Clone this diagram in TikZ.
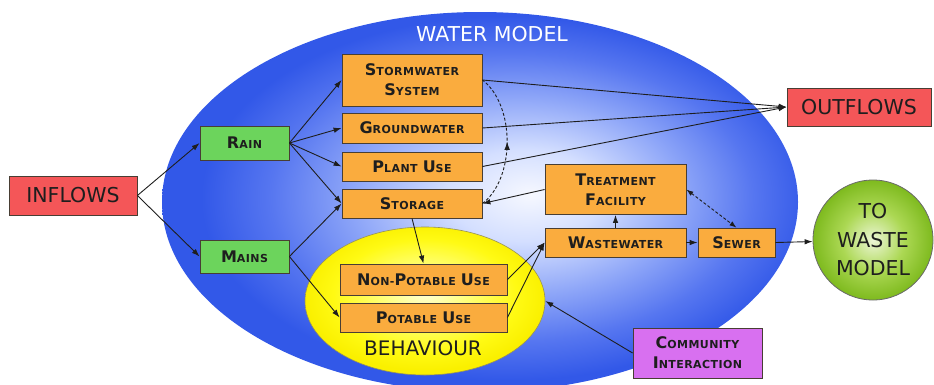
\documentclass[tikz,border=0pt]{standalone}
\usepackage{fontspec}
\setmainfont{DejaVu Sans}
\newfontfamily\spacedfont[LetterSpace=4]{DejaVu Sans}
\usetikzlibrary{arrows.meta,decorations.markings,shapes.geometric}

% palette
\definecolor{wgA}{RGB}{246,248,255}
\definecolor{wgB}{RGB}{212,223,255}
\definecolor{wgC}{RGB}{142,166,248}
\definecolor{wgD}{RGB}{86,118,240}
\definecolor{wgE}{RGB}{50,88,232}
\definecolor{ygA}{RGB}{255,255,215}
\definecolor{ygB}{RGB}{255,255,120}
\definecolor{ygC}{RGB}{255,250,20}
\definecolor{ygD}{RGB}{250,240,0}
\definecolor{ggA}{RGB}{236,246,214}
\definecolor{ggB}{RGB}{172,216,84}
\definecolor{ggC}{RGB}{126,186,30}
\definecolor{boxorange}{RGB}{250,172,62}
\definecolor{boxgreen}{RGB}{108,212,92}
\definecolor{boxred}{RGB}{244,86,88}
\definecolor{boxpurple}{RGB}{216,112,240}
\definecolor{edgegray}{RGB}{72,62,52}
\definecolor{inkgray}{RGB}{30,30,30}

\pgfdeclareradialshading{waterglow}{\pgfpoint{4bp}{1bp}}{%
  color(0bp)=(wgA); color(6bp)=(wgB); color(13bp)=(wgC);
  color(19bp)=(wgD); color(24bp)=(wgE); color(50bp)=(wgE)}
\pgfdeclareradialshading{yellowglow}{\pgfpoint{0bp}{3bp}}{%
  color(0bp)=(ygA); color(9bp)=(ygB); color(19bp)=(ygC);
  color(25bp)=(ygD); color(50bp)=(ygD)}
\pgfdeclareradialshading{greenglow}{\pgfpoint{0bp}{0bp}}{%
  color(0bp)=(ggA); color(13bp)=(ggB); color(25bp)=(ggC); color(50bp)=(ggC)}

% first letter large, the rest as small capitals
\newcommand\smcp[2]{{\fontsize{16}{20}\selectfont\bfseries #1}{\fontsize{11}{20}\selectfont\spacedfont\bfseries #2}}

\tikzset{
  flowbox/.style={draw=edgegray, line width=0.8pt, inner sep=0pt, align=center,
    text=inkgray, font=\fontsize{16}{20}\selectfont},
  usebox/.style={flowbox, fill=boxorange},
  srcbox/.style={flowbox, fill=boxgreen, minimum width=89pt},
  endbox/.style={flowbox, fill=boxred, minimum height=39pt,
    font=\fontsize{20.5}{24}\selectfont},
  flow/.style={draw=inkgray, line width=0.9pt, -{Latex[length=8pt,width=5.5pt]}},
  dashflow/.style={draw=inkgray, line width=0.9pt, dash pattern=on 3pt off 2pt},
}

\begin{document}
\begin{tikzpicture}[x=1pt,y=-1pt]
\useasboundingbox (0,0) rectangle (934,384);

% containers
\node (water) [ellipse, minimum width=636pt, minimum height=380pt, inner sep=0pt,
  shade, shading=waterglow] at (480,202) {};
\node (watertitle) [text=white, font=\fontsize{20.5}{24}\selectfont] at (492,34) {WATER MODEL};
\node (behav) [ellipse, minimum width=240pt, minimum height=148pt, inner sep=0pt,
  draw={rgb,255:red,150;green,145;blue,90}, line width=0.6pt,
  shade, shading=yellowglow] at (425,301) {};
\node (behavtitle) [text=inkgray, font=\fontsize{20}{24}\selectfont] at (423,348) {BEHAVIOUR};
\node (tw) [circle, minimum size=120pt, inner sep=0pt, draw={rgb,255:red,105;green,105;blue,105},
  line width=0.8pt, shade, shading=greenglow, align=center, text=inkgray,
  font=\fontsize{20.5}{28.5}\selectfont] at (873,240) {TO\\WASTE\\MODEL};

% boxes
\node (inflows) [endbox, minimum width=128pt] at (73,195.5) {INFLOWS};
\node (outflows) [endbox, minimum width=144pt, minimum height=38pt] at (859,107) {OUTFLOWS};
\node (rain) [srcbox, minimum height=34pt] at (244.5,143) {\smcp{R}{AIN}};
\node (mains) [srcbox, minimum height=33pt] at (244.5,256.5) {\smcp{M}{AINS}};
\node (storm) [usebox, minimum width=140pt, minimum height=52pt] at (412,80)
  {\smcp{S}{TORMWATER}\\\smcp{S}{YSTEM}};
\node (ground) [usebox, minimum width=140pt, minimum height=30pt] at (412,128) {\smcp{G}{ROUNDWATER}};
\node (plant) [usebox, minimum width=140pt, minimum height=29pt] at (412,166.5) {\smcp{P}{LANT} \smcp{U}{SE}};
\node (storage) [usebox, minimum width=140pt, minimum height=29pt] at (412,203.5) {\smcp{S}{TORAGE}};
\node (nonpot) [usebox, minimum width=167pt, minimum height=31pt] at (423.5,279.5)
  {\smcp{N}{ON-}\smcp{P}{OTABLE} \smcp{U}{SE}};
\node (pot) [usebox, minimum width=167pt, minimum height=29pt] at (423.5,317.5) {\smcp{P}{OTABLE} \smcp{U}{SE}};
\node (treat) [usebox, minimum width=141pt, minimum height=50pt] at (615.5,189.5)
  {\smcp{T}{REATMENT}\\\smcp{F}{ACILITY}};
\node (waste) [usebox, minimum width=141pt, minimum height=29pt] at (615.5,242.5) {\smcp{W}{ASTEWATER}};
\node (sewer) [usebox, minimum width=77pt, minimum height=29pt] at (736.5,242.5) {\smcp{S}{EWER}};
\node (comm) [flowbox, fill=boxpurple, minimum width=129pt, minimum height=50pt] at (697.5,353)
  {\smcp{C}{OMMUNITY}\\\smcp{I}{NTERACTION}};

% connectors
\draw[flow] (inflows.east) -- (rain.west);
\draw[flow] (inflows.east) -- (mains.west);
\draw[flow] (rain.east) -- (storm.west);
\draw[flow] (rain.east) -- (ground.west);
\draw[flow] (rain.east) -- (plant.west);
\draw[flow] (rain.east) -- (storage.west);
\draw[flow] (mains.east) -- (storage.west);
\draw[flow] (mains.east) -- (pot.west);
\draw[flow] (storage.south) -- (nonpot.north);
\draw[flow] (nonpot.east) -- (waste.west);
\draw[flow] (pot.east) -- (waste.west);
\draw[flow] (waste.north) -- (treat.south);
\draw[flow] (waste.east) -- (sewer.west);
\draw[flow] (treat.west) -- (storage.east);
\draw[flow] (storm.east) -- (outflows.west);
\draw[flow] (ground.east) -- (outflows.west);
\draw[flow] (plant.east) -- (outflows.west);
\draw[flow] (sewer.east) -- (tw);
\draw[flow] (comm.west) -- (behav.east);
\draw[dashflow, {Latex[length=7pt,width=5pt]}-{Latex[length=7pt,width=5pt]}] (treat.east) -- (sewer.north);
\draw[dashflow, postaction={decorate}, decoration={markings,
    mark=at position 0.5 with {\arrow{Latex[length=8pt,width=5.5pt]}}}]
  (storage.east) .. controls +(33,-25) and +(33,25) .. (storm.east);
\end{tikzpicture}
\end{document}
